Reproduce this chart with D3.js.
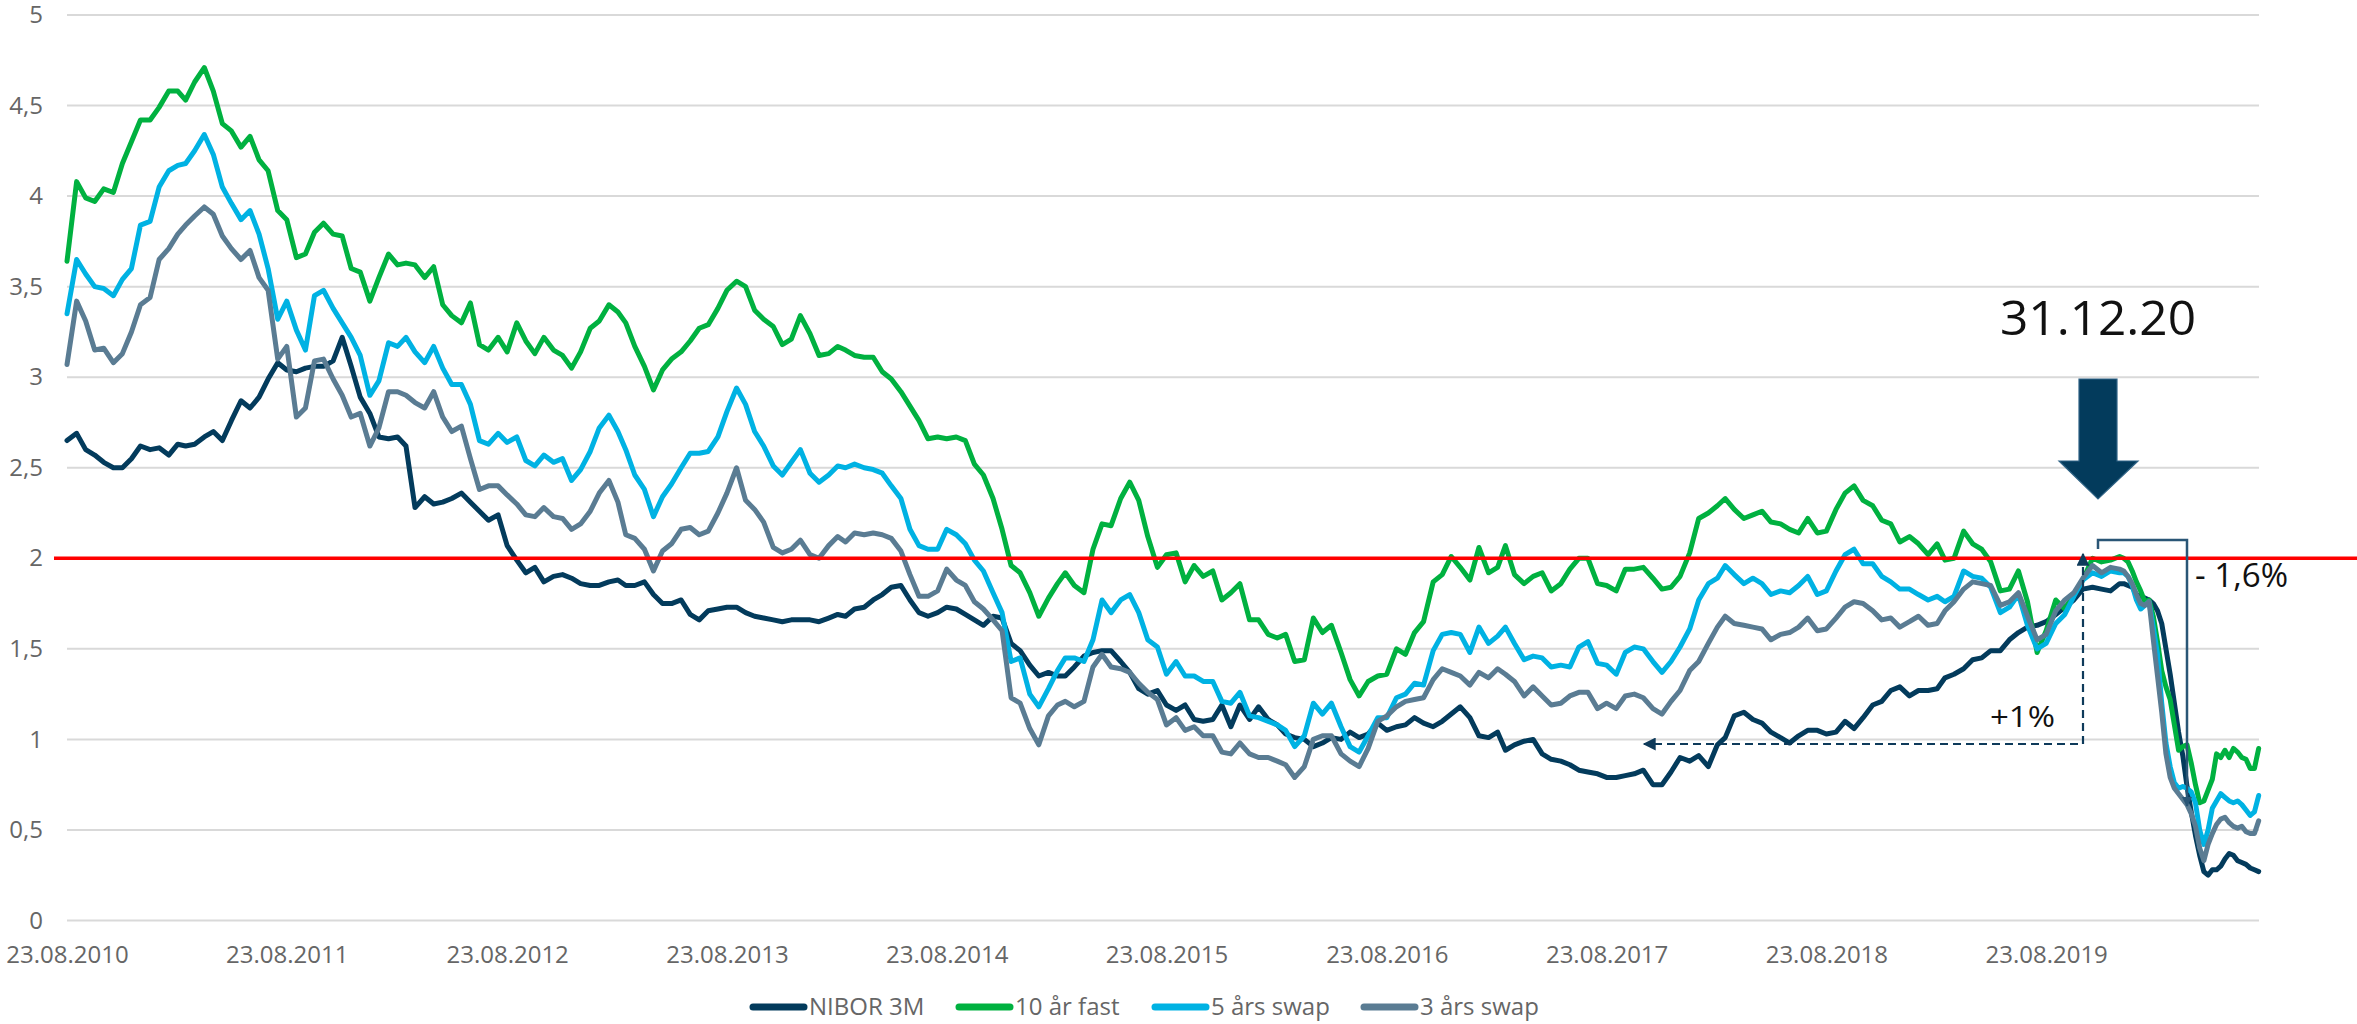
<!DOCTYPE html>
<html><head><meta charset="utf-8">
<script src="https://cdn.jsdelivr.net/npm/d3@7"></script>
<style>
html,body{margin:0;padding:0;background:#fff;}
svg{display:block;font-family:"Open Sans",sans-serif;}
</style></head><body>
<svg id="chart" width="2357" height="1024"></svg>
<script>
// ---------- DATA ----------
// readings on the 23rd of each month (Aug 2010 - Nov 2019)
const monthDates = [
"2010-08-23","2010-09-23","2010-10-23","2010-11-23","2010-12-23",
"2011-01-23","2011-02-23","2011-03-23","2011-04-23","2011-05-23","2011-06-23","2011-07-23","2011-08-23","2011-09-23","2011-10-23","2011-11-23","2011-12-23",
"2012-01-23","2012-02-23","2012-03-23","2012-04-23","2012-05-23","2012-06-23","2012-07-23","2012-08-23","2012-09-23","2012-10-23","2012-11-23","2012-12-23",
"2013-01-23","2013-02-23","2013-03-23","2013-04-23","2013-05-23","2013-06-23","2013-07-23","2013-08-23","2013-09-23","2013-10-23","2013-11-23","2013-12-23",
"2014-01-23","2014-02-23","2014-03-23","2014-04-23","2014-05-23","2014-06-23","2014-07-23","2014-08-23","2014-09-23","2014-10-23","2014-11-23","2014-12-23",
"2015-01-23","2015-02-23","2015-03-23","2015-04-23","2015-05-23","2015-06-23","2015-07-23","2015-08-23","2015-09-23","2015-10-23","2015-11-23","2015-12-23",
"2016-01-23","2016-02-23","2016-03-23","2016-04-23","2016-05-23","2016-06-23","2016-07-23","2016-08-23","2016-09-23","2016-10-23","2016-11-23","2016-12-23",
"2017-01-23","2017-02-23","2017-03-23","2017-04-23","2017-05-23","2017-06-23","2017-07-23","2017-08-23","2017-09-23","2017-10-23","2017-11-23","2017-12-23",
"2018-01-23","2018-02-23","2018-03-23","2018-04-23","2018-05-23","2018-06-23","2018-07-23","2018-08-23","2018-09-23","2018-10-23","2018-11-23","2018-12-23",
"2019-01-23","2019-02-23","2019-03-23","2019-04-23","2019-05-23","2019-06-23","2019-07-23","2019-08-23","2019-09-23","2019-10-23","2019-11-23"
];
// readings on the 8th of the following month
const midDates = [
"2010-09-08","2010-10-08","2010-11-08","2010-12-08","2011-01-08",
"2011-02-08","2011-03-08","2011-04-08","2011-05-08","2011-06-08","2011-07-08","2011-08-08","2011-09-08","2011-10-08","2011-11-08","2011-12-08","2012-01-08",
"2012-02-08","2012-03-08","2012-04-08","2012-05-08","2012-06-08","2012-07-08","2012-08-08","2012-09-08","2012-10-08","2012-11-08","2012-12-08","2013-01-08",
"2013-02-08","2013-03-08","2013-04-08","2013-05-08","2013-06-08","2013-07-08","2013-08-08","2013-09-08","2013-10-08","2013-11-08","2013-12-08","2014-01-08",
"2014-02-08","2014-03-08","2014-04-08","2014-05-08","2014-06-08","2014-07-08","2014-08-08","2014-09-08","2014-10-08","2014-11-08","2014-12-08","2015-01-08",
"2015-02-08","2015-03-08","2015-04-08","2015-05-08","2015-06-08","2015-07-08","2015-08-08","2015-09-08","2015-10-08","2015-11-08","2015-12-08","2016-01-08",
"2016-02-08","2016-03-08","2016-04-08","2016-05-08","2016-06-08","2016-07-08","2016-08-08","2016-09-08","2016-10-08","2016-11-08","2016-12-08","2017-01-08",
"2017-02-08","2017-03-08","2017-04-08","2017-05-08","2017-06-08","2017-07-08","2017-08-08","2017-09-08","2017-10-08","2017-11-08","2017-12-08","2018-01-08",
"2018-02-08","2018-03-08","2018-04-08","2018-05-08","2018-06-08","2018-07-08","2018-08-08","2018-09-08","2018-10-08","2018-11-08","2018-12-08","2019-01-08",
"2019-02-08","2019-03-08","2019-04-08","2019-05-08","2019-06-08","2019-07-08","2019-08-08","2019-09-08","2019-10-08","2019-11-08","2019-12-08"
];
// weekly readings Dec 2019 - Aug 2020
const weekDates = [
"2019-12-23","2019-12-30","2020-01-06","2020-01-13","2020-01-20","2020-01-27","2020-02-03","2020-02-10","2020-02-17","2020-02-24",
"2020-03-02","2020-03-09","2020-03-16","2020-03-23","2020-03-30","2020-04-06","2020-04-13","2020-04-20","2020-04-27","2020-05-04",
"2020-05-11","2020-05-18","2020-05-25","2020-06-01","2020-06-08","2020-06-15","2020-06-22","2020-06-29","2020-07-06","2020-07-13",
"2020-07-20","2020-07-27","2020-08-03","2020-08-10"
];

// NIBOR 3M
const niborMonth = [
2.65,2.60,2.53,2.50,2.62,2.61,2.63,2.63,2.70,2.76,
2.83,2.99,3.04,3.05,3.06,3.22,2.89,2.67,2.67,2.28,
2.30,2.33,2.31,2.21,2.07,1.92,1.87,1.91,1.86,1.85,
1.88,1.85,1.80,1.75,1.69,1.71,1.73,1.70,1.67,1.65,
1.66,1.65,1.69,1.72,1.77,1.84,1.77,1.68,1.73,1.69,
1.63,1.67,1.49,1.35,1.35,1.40,1.48,1.49,1.37,1.25,
1.19,1.19,1.10,1.19,1.19,1.18,1.08,1.01,0.96,1.01,
1.04,1.03,1.05,1.08,1.09,1.10,1.18,1.02,1.04,0.97,
1.00,0.89,0.86,0.82,0.79,0.80,0.83,0.75,0.90,0.91,
0.97,1.13,1.11,1.04,0.98,1.05,1.03,1.10,1.12,1.21,
1.29,1.27,1.28,1.36,1.44,1.49,1.55,1.62,1.65,1.73,
1.83,1.83];
const niborMid = [
2.69,2.57,2.50,2.55,2.60,2.57,2.62,2.67,2.65,2.87,
2.89,3.08,3.03,3.06,3.09,3.06,2.80,2.66,2.62,2.34,
2.31,2.36,2.26,2.24,1.99,1.95,1.90,1.89,1.85,1.87,
1.85,1.87,1.75,1.77,1.66,1.72,1.73,1.68,1.66,1.66,
1.66,1.67,1.68,1.73,1.80,1.85,1.70,1.70,1.72,1.66,
1.68,1.53,1.41,1.37,1.35,1.46,1.49,1.43,1.28,1.27,
1.16,1.11,1.11,1.07,1.11,1.11,1.03,1.00,0.98,1.00,
1.01,1.09,1.07,1.12,1.07,1.14,1.12,1.01,0.94,0.99,
0.92,0.88,0.83,0.81,0.79,0.81,0.75,0.82,0.88,0.85,
1.01,1.15,1.09,1.01,1.02,1.05,1.04,1.06,1.19,1.27,
1.24,1.27,1.34,1.39,1.45,1.49,1.59,1.63,1.69,1.77,
1.84,1.82];
const niborWeek = [
1.86,1.86,1.85,1.84,1.80,1.79,1.78,1.77,1.75,1.71,
1.64,1.50,1.36,1.20,1.04,0.91,0.74,0.60,0.47,0.36,
0.27,0.25,0.28,0.28,0.30,0.34,0.37,0.36,0.33,0.32,
0.31,0.29,0.28,0.27];

// 10 år fast
const fastMonth = [
3.64,3.99,4.04,4.18,4.42,4.49,4.58,4.63,4.58,4.36,
4.33,4.14,3.87,3.68,3.85,3.78,3.58,3.55,3.62,3.62,
3.61,3.34,3.41,3.15,3.14,3.20,3.22,3.12,3.14,3.31,
3.36,3.17,2.93,3.10,3.20,3.29,3.48,3.50,3.32,3.18,
3.34,3.12,3.17,3.12,3.11,2.99,2.84,2.66,2.66,2.65,
2.46,2.16,1.92,1.68,1.86,1.85,2.05,2.18,2.42,2.12,
2.02,1.87,1.90,1.77,1.86,1.66,1.56,1.43,1.67,1.63,
1.33,1.32,1.36,1.47,1.65,1.91,1.95,2.06,1.95,1.91,
1.90,1.82,1.94,2.00,1.85,1.94,1.95,1.83,1.90,2.22,
2.29,2.27,2.24,2.20,2.16,2.22,2.15,2.36,2.32,2.21,
2.09,2.08,2.08,2.00,2.08,1.98,1.83,1.76,1.60,1.72,
1.88,1.98];
const fastMid = [
4.08,3.97,4.02,4.30,4.42,4.58,4.53,4.71,4.40,4.27,
4.20,3.92,3.66,3.80,3.79,3.60,3.42,3.68,3.63,3.55,
3.40,3.30,3.18,3.22,3.30,3.13,3.15,3.05,3.27,3.40,
3.30,3.06,3.04,3.14,3.27,3.38,3.53,3.37,3.28,3.21,
3.24,3.13,3.15,3.11,3.03,2.92,2.76,2.67,2.67,2.52,
2.33,1.96,1.81,1.78,1.92,1.81,2.19,2.33,2.32,1.95,
2.03,1.96,1.93,1.81,1.66,1.58,1.58,1.44,1.59,1.48,
1.24,1.35,1.50,1.59,1.87,2.01,1.88,1.92,2.07,1.86,
1.92,1.86,2.00,1.86,1.82,1.94,1.89,1.84,2.03,2.25,
2.33,2.22,2.26,2.19,2.14,2.14,2.27,2.40,2.29,2.19,
2.12,2.02,1.99,2.15,2.05,1.82,1.93,1.48,1.77,1.80,
2.00,1.99];
const fastWeek = [
2.01,2.00,1.98,1.93,1.87,1.82,1.76,1.77,1.68,1.54,
1.38,1.29,1.22,1.08,0.94,0.96,0.97,0.87,0.75,0.65,
0.66,0.72,0.78,0.92,0.90,0.94,0.90,0.95,0.93,0.90,
0.89,0.84,0.84,0.95];

// 5 års swap
const swap5Month = [
3.35,3.57,3.49,3.54,3.84,4.05,4.17,4.25,4.23,3.96,
3.92,3.60,3.42,3.15,3.48,3.30,3.12,2.98,3.17,3.14,
3.17,2.96,2.85,2.63,2.64,2.54,2.57,2.55,2.49,2.72,
2.70,2.46,2.23,2.41,2.58,2.59,2.81,2.85,2.62,2.46,
2.60,2.42,2.51,2.52,2.49,2.40,2.16,2.05,2.16,2.08,
1.93,1.70,1.45,1.18,1.38,1.45,1.55,1.70,1.80,1.55,
1.36,1.35,1.32,1.21,1.26,1.12,1.08,0.96,1.20,1.20,
0.96,1.02,1.12,1.25,1.30,1.58,1.58,1.62,1.57,1.53,
1.46,1.40,1.40,1.54,1.41,1.48,1.50,1.37,1.51,1.77,
1.89,1.91,1.89,1.80,1.81,1.90,1.82,2.02,1.97,1.90,
1.83,1.80,1.79,1.79,1.90,1.84,1.73,1.63,1.53,1.69,
1.88,1.90];
const swap5Mid = [
3.65,3.50,3.45,3.60,3.86,4.14,4.18,4.34,4.05,3.87,
3.79,3.32,3.26,3.45,3.38,3.22,2.90,3.19,3.22,3.08,
3.05,2.96,2.65,2.69,2.67,2.51,2.53,2.43,2.59,2.79,
2.60,2.38,2.34,2.50,2.58,2.67,2.94,2.70,2.51,2.53,
2.47,2.46,2.50,2.50,2.47,2.33,2.07,2.05,2.13,1.99,
1.81,1.43,1.25,1.28,1.45,1.43,1.77,1.77,1.70,1.51,
1.43,1.35,1.32,1.20,1.13,1.10,1.05,1.02,1.14,1.07,
0.93,1.12,1.23,1.31,1.49,1.59,1.48,1.53,1.62,1.44,
1.45,1.41,1.51,1.42,1.36,1.51,1.43,1.43,1.61,1.86,
1.96,1.86,1.86,1.82,1.85,1.80,1.93,2.05,1.97,1.87,
1.83,1.77,1.76,1.93,1.89,1.70,1.80,1.50,1.64,1.79,
1.92,1.93];
const swap5Week = [
1.92,1.92,1.90,1.85,1.77,1.72,1.74,1.76,1.62,1.47,
1.20,0.98,0.85,0.76,0.73,0.74,0.73,0.71,0.65,0.50,
0.42,0.50,0.62,0.66,0.70,0.68,0.66,0.65,0.66,0.64,
0.61,0.58,0.60,0.69];

// 3 års swap
const swap3Month = [
3.07,3.31,3.16,3.13,3.40,3.65,3.79,3.89,3.90,3.71,
3.70,3.48,3.17,2.83,3.10,2.90,2.80,2.72,2.92,2.86,
2.92,2.70,2.55,2.40,2.35,2.24,2.28,2.22,2.19,2.36,
2.31,2.11,1.93,2.08,2.17,2.15,2.36,2.32,2.20,2.03,
2.10,2.00,2.12,2.14,2.14,2.11,1.91,1.79,1.94,1.85,
1.72,1.60,1.20,0.97,1.19,1.18,1.40,1.40,1.37,1.26,
1.08,1.05,1.02,0.93,0.98,0.90,0.88,0.79,1.00,1.02,
0.88,0.95,1.13,1.21,1.23,1.39,1.35,1.37,1.39,1.32,
1.29,1.19,1.24,1.26,1.20,1.24,1.23,1.14,1.27,1.43,
1.62,1.64,1.62,1.55,1.59,1.67,1.61,1.73,1.75,1.66,
1.62,1.68,1.64,1.76,1.87,1.85,1.76,1.68,1.58,1.77,
1.89,1.92];
const swap3Mid = [
3.42,3.15,3.08,3.25,3.44,3.71,3.84,3.94,3.78,3.65,
3.55,3.10,2.78,3.09,2.99,2.78,2.62,2.92,2.90,2.83,
2.78,2.73,2.38,2.40,2.30,2.23,2.23,2.16,2.26,2.43,
2.13,2.05,2.04,2.16,2.13,2.25,2.50,2.27,2.06,2.05,
2.02,2.07,2.09,2.13,2.13,2.04,1.79,1.82,1.88,1.76,
1.66,1.23,1.06,1.13,1.21,1.21,1.47,1.39,1.31,1.22,
1.12,1.07,1.02,0.92,0.92,0.90,0.86,0.85,1.02,0.92,
0.85,1.10,1.18,1.22,1.33,1.37,1.30,1.34,1.36,1.24,
1.24,1.20,1.26,1.17,1.17,1.25,1.17,1.21,1.38,1.53,
1.68,1.63,1.61,1.58,1.62,1.60,1.67,1.76,1.71,1.67,
1.65,1.63,1.71,1.83,1.86,1.74,1.81,1.55,1.71,1.81,
1.96,1.95];
const swap3Week = [
1.94,1.93,1.90,1.86,1.80,1.75,1.74,1.76,1.55,1.35,
1.15,0.92,0.79,0.73,0.70,0.67,0.64,0.59,0.52,0.40,
0.33,0.42,0.48,0.53,0.56,0.57,0.54,0.52,0.51,0.52,
0.49,0.48,0.48,0.55];

const seriesNames = ["NIBOR 3M", "10 år fast", "5 års swap", "3 års swap"];
const xTickDates = ["2010-08-23","2011-08-23","2012-08-23","2013-08-23","2014-08-23","2015-08-23","2016-08-23","2017-08-23","2018-08-23","2019-08-23"];
const yTicks = [0,0.5,1,1.5,2,2.5,3,3.5,4,4.5,5];
const thresholdValue = 2;
const annotDate = "31.12.20";
const upLabel = "+1%";
const downLabel = "- 1,6%";

// ---------- ASSEMBLE (interleave month / mid-month readings, then weekly) ----------
const parse = d3.timeParse("%Y-%m-%d");
function assemble(m, h, w) { return d3.merge(d3.zip(m, h)).concat(w); }
const allDates = assemble(monthDates, midDates, weekDates).map(parse);
const seriesValues = [
  assemble(niborMonth, niborMid, niborWeek),
  assemble(fastMonth, fastMid, fastWeek),
  assemble(swap5Month, swap5Mid, swap5Week),
  assemble(swap3Month, swap3Mid, swap3Week)
];

// ---------- STYLE / LAYOUT ----------
const colors = ["#033b5c", "#00b140", "#00b2e3", "#5a7c93"];
const W = 2357;
const plotLeft = 67, plotRight = 2259;

const svg = d3.select("#chart");
const x = d3.scaleTime()
  .domain([parse("2010-08-23"), parse("2020-08-23")])
  .range([67, 2266.5]);
const y = d3.scaleLinear().domain([0, 5]).range([920.5, 15]);

// gridlines
svg.append("g").selectAll("line").data(yTicks).join("line")
  .attr("x1", plotLeft).attr("x2", plotRight)
  .attr("y1", d => y(d)).attr("y2", d => y(d))
  .attr("stroke", "#d9d9d9").attr("stroke-width", 2);

// y axis
const yAxis = svg.append("g").attr("transform", `translate(${plotLeft},0)`)
  .call(d3.axisLeft(y).tickValues(yTicks).tickSize(0).tickPadding(24)
    .tickFormat(d => String(d).replace(".", ",")));
yAxis.select(".domain").remove();
yAxis.selectAll("text").attr("font-family", "Open Sans").attr("font-size", 24).attr("fill", "#666");

// x axis
const xAxis = svg.append("g").attr("transform", `translate(0,${y(0)})`)
  .call(d3.axisBottom(x).tickValues(xTickDates.map(parse)).tickSize(0)
    .tickFormat(d3.timeFormat("%d.%m.%Y")));
xAxis.select(".domain").remove();
xAxis.selectAll("text").attr("y", 42).attr("dy", 0)
  .attr("font-family", "Open Sans").attr("font-size", 24).attr("fill", "#666");

// lines
const line = d3.line().x((d, i) => x(allDates[i])).y(d => y(d));
svg.append("g").selectAll("path").data(seriesValues).join("path")
  .attr("d", d => line(d))
  .attr("fill", "none")
  .attr("stroke", (d, i) => colors[i])
  .attr("stroke-width", 5)
  .attr("stroke-linejoin", "round")
  .attr("stroke-linecap", "round");

// red threshold line
svg.append("line").attr("x1", 54).attr("x2", W)
  .attr("y1", y(thresholdValue)).attr("y2", y(thresholdValue))
  .attr("stroke", "#ff0000").attr("stroke-width", 3.5);

// arrowhead markers
const defs = svg.append("defs");
function marker(id, color, w, h) {
  defs.append("marker").attr("id", id).attr("viewBox", "0 0 10 10")
    .attr("refX", 9).attr("refY", 5).attr("markerWidth", w).attr("markerHeight", h)
    .attr("markerUnits", "userSpaceOnUse").attr("orient", "auto-start-reverse")
    .append("path").attr("d", "M0,0 L10,5 L0,10 Z").attr("fill", color);
}
marker("arrDash", "#0e3a5a", 15, 13);
marker("arrSolid", "#2a5676", 12, 10);

// big down arrow
svg.append("path")
  .attr("d", "M2079,379 H2117 V461 H2138 L2098,499 L2059,461 H2079 Z")
  .attr("fill", "#033b5c").attr("stroke", "#2f6385").attr("stroke-width", 1.2);

svg.append("text").attr("x", 2098).attr("y", 335).attr("text-anchor", "middle")
  .attr("font-family", "Open Sans").attr("font-size", 48).attr("fill", "#111")
  .attr("textLength", 196).attr("lengthAdjust", "spacingAndGlyphs")
  .text(annotDate);

// dashed elbow (+1%)
svg.append("path")
  .attr("d", "M2083,554 V744 H1644")
  .attr("fill", "none").attr("stroke", "#0e3a5a").attr("stroke-width", 2.2)
  .attr("stroke-dasharray", "8,5")
  .attr("marker-start", "url(#arrDash)").attr("marker-end", "url(#arrDash)");

svg.append("text").attr("x", 1990).attr("y", 727)
  .attr("font-family", "Open Sans").attr("font-size", 30).attr("fill", "#111")
  .attr("textLength", 65).attr("lengthAdjust", "spacingAndGlyphs")
  .text(upLabel);

// solid bracket (-1,6%)
svg.append("path")
  .attr("d", "M2098,549 V540 H2187 V806")
  .attr("fill", "none").attr("stroke", "#2a5676").attr("stroke-width", 2.5)
  .attr("marker-end", "url(#arrSolid)");

svg.append("text").attr("x", 2195).attr("y", 587)
  .attr("font-family", "Open Sans").attr("font-size", 33).attr("fill", "#111")
  .attr("textLength", 93).attr("lengthAdjust", "spacingAndGlyphs")
  .text(downLabel);

// legend
const legendX = [750, 956, 1152, 1361];
const legendY = 1007;
const lg = svg.append("g").selectAll("g").data(seriesNames).join("g")
  .attr("transform", (d, i) => `translate(${legendX[i]},${legendY})`);
lg.append("line").attr("x1", 3).attr("x2", 54).attr("y1", 0).attr("y2", 0)
  .attr("stroke", (d, i) => colors[i]).attr("stroke-width", 7).attr("stroke-linecap", "round");
lg.append("text").attr("x", 59).attr("y", 0).attr("dy", "0.35em")
  .attr("font-family", "Open Sans").attr("font-size", 24).attr("fill", "#666")
  .text(d => d);
</script>
</body></html>
